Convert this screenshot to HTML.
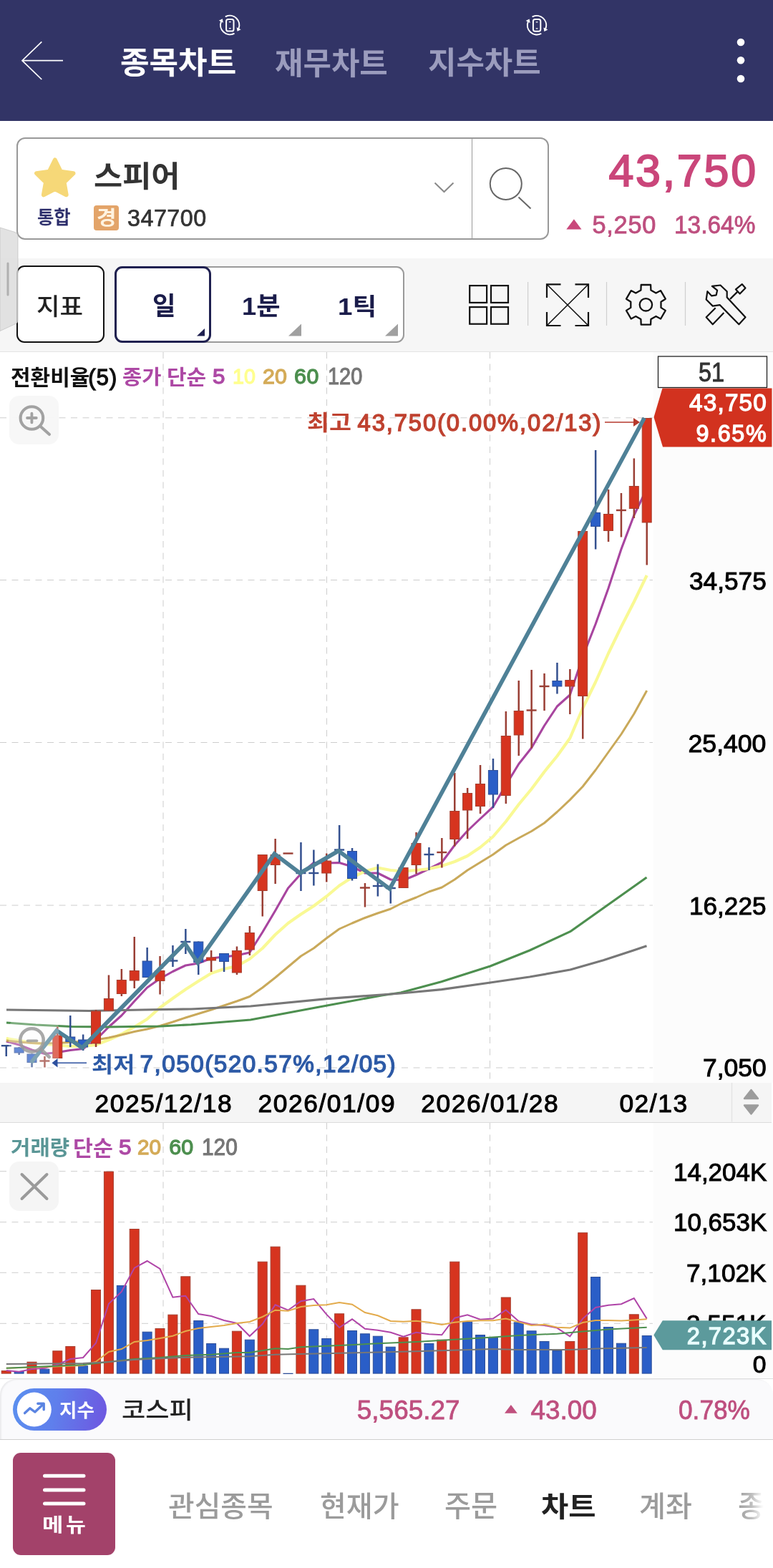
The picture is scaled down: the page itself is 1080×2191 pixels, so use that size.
<!DOCTYPE html>
<html lang="ko"><head><meta charset="utf-8"><title>종목차트</title>
<style>
html,body{margin:0;padding:0}
body{width:1080px;height:2191px;position:relative;overflow:hidden;background:#fff;font-family:"Liberation Sans","Noto Sans CJK KR",sans-serif}
.abs{position:absolute}
.t{position:absolute;line-height:1;white-space:pre;transform-origin:0 0}
</style></head><body>
<div class="abs" style="left:0;top:0;width:1080px;height:168.5px;background:#323466"></div>
<div class="abs" style="left:0;top:360.5px;width:1080px;height:130.5px;background:#f6f6f6;border-bottom:1px solid #e4e4e4"></div>
<div class="abs" style="left:912.5px;top:492px;width:167.5px;height:1021px;background:#fcfcfc"></div>
<div class="abs" style="left:0;top:1512.5px;width:1078px;height:55px;background:#f5f5f5;border-bottom:1.5px solid #dcdcdc"></div>
<div class="abs" style="left:912.5px;top:1569px;width:167.5px;height:357px;background:#fcfcfc"></div>
<div class="abs" style="left:0;top:1925.5px;width:1080px;height:1.3px;background:#dedede"></div>
<div class="abs" style="left:0;top:1927px;width:1080px;height:84px;background:#fafafc;border-radius:22px 22px 0 0;border-bottom:1.5px solid #cfcfcf;box-shadow:inset 2px 1px 2px rgba(0,0,0,0.06)"></div>
<svg class="abs" style="left:0;top:0" width="1080" height="168" viewBox="0 0 1080 168"><path d="M58.3 58.3L31 84.7L58.3 111M31 84.7H88" fill="none" stroke="#fff" stroke-width="1.7"/><circle cx="1035" cy="59" r="5.3" fill="#fff"/><circle cx="1035" cy="84.3" r="5.3" fill="#fff"/><circle cx="1035" cy="110" r="5.3" fill="#fff"/><g fill="none" stroke="#fff" stroke-width="2" stroke-linecap="round" stroke-linejoin="round"><path d="M315.6 23.0A13.2 13.2 0 0 1 333.4 39.9"/><path d="M326.8 47.0A13.2 13.2 0 0 1 309.0 30.1"/><rect x="316.1" y="26.9" width="10.4" height="16.6" rx="2.6"/><path d="M320.4 30.6h1.8M320.4 39.6h1.8" stroke-width="1.3"/></g><path d="M331.6 43.8L330.6 38.3L336.6 41.2Z" fill="#fff"/><path d="M310.8 26.2L311.8 31.7L305.8 28.8Z" fill="#fff"/><g fill="none" stroke="#fff" stroke-width="2" stroke-linecap="round" stroke-linejoin="round"><path d="M744.4 23.2A13.2 13.2 0 0 1 762.2 40.1"/><path d="M755.6 47.2A13.2 13.2 0 0 1 737.8 30.3"/><rect x="744.9" y="27.1" width="10.4" height="16.6" rx="2.6"/><path d="M749.2 30.8h1.8M749.2 39.8h1.8" stroke-width="1.3"/></g><path d="M760.4 44.0L759.4 38.5L765.4 41.4Z" fill="#fff"/><path d="M739.6 26.4L740.6 31.9L734.6 29.0Z" fill="#fff"/></svg>
<span class="t" style="left:167.9px;top:67.0px;font-size:42.7px;transform:scaleX(1.0327);font-weight:700;color:#fff;">종목차트</span>
<span class="t" style="left:384.3px;top:67.8px;font-size:42.7px;transform:scaleX(1.0045);font-weight:700;color:#9b9cbd;">재무차트</span>
<span class="t" style="left:598.4px;top:67.3px;font-size:42.7px;transform:scaleX(1.0039);font-weight:700;color:#9b9cbd;">지수차트</span>
<div class="abs" style="left:23px;top:192px;width:740px;height:139px;border:2px solid #999;border-radius:12px;background:#fff"></div>
<div class="abs" style="left:658.5px;top:194px;width:1.5px;height:139px;background:#999"></div>
<svg class="abs" style="left:0;top:168px" width="1080" height="192" viewBox="0 168 1080 192"><path d="M76.8 223.5L84.7 239.6L102.5 242.2L89.6 254.7L92.7 272.3L76.8 264.0L60.9 272.3L64.0 254.7L51.1 242.2L68.9 239.6Z" fill="#f6d878" stroke="#f6d878" stroke-width="6" stroke-linejoin="round"/><path d="M607.5 255.5L620.5 268L633.5 255.5" fill="none" stroke="#8a8a8a" stroke-width="2"/><circle cx="706.8" cy="257" r="22" fill="none" stroke="#666" stroke-width="2"/><path d="M724.5 275.5L741.5 291.5" stroke="#666" stroke-width="2"/><path d="M791.3 320.4L801.9 306.2L812.5 320.4Z" fill="#c9487b"/></svg>
<span class="t" style="left:130.5px;top:227.2px;font-size:40.5px;transform:scaleX(1.0783);font-weight:700;color:#333;">스피어</span>
<span class="t" style="left:52.2px;top:292.0px;font-size:25.6px;transform:scaleX(0.9911);font-weight:500;-webkit-text-stroke:0.35px #2b2d6b;color:#2b2d6b;">통합</span>
<div class="abs" style="left:130.7px;top:286.7px;width:35.3px;height:35.3px;background:#e3a469;border-radius:4px"></div>
<span class="t" style="left:134.8px;top:291.2px;font-size:27.5px;transform:scaleX(1.0857);font-weight:700;color:#fff3e0;">경</span>
<span class="t" style="left:178.1px;top:288.6px;font-size:32.3px;letter-spacing:0.46px;-webkit-text-stroke:0.7px #333;color:#333;">347700</span>
<span class="t" style="left:850.4px;top:206.8px;font-size:62.8px;letter-spacing:2.72px;-webkit-text-stroke:1.9px #ca467a;color:#ca467a;">43,750</span>
<span class="t" style="left:827.5px;top:296.8px;font-size:34.4px;letter-spacing:0.7px;-webkit-text-stroke:0.8px #be4f7f;color:#be4f7f;">5,250</span>
<span class="t" style="left:941.8px;top:296.8px;font-size:34.4px;transform:scaleX(0.9719);-webkit-text-stroke:0.8px #be4f7f;color:#be4f7f;">13.64%</span>
<div class="abs" style="left:23.3px;top:371.3px;width:118.5px;height:103.6px;border:2px solid #111;border-radius:11px;background:#fff"></div>
<span class="t" style="left:51.2px;top:411.6px;font-size:33.3px;transform:scaleX(1.0638);font-weight:500;color:#222;">지표</span>
<div class="abs" style="left:160.4px;top:371.5px;width:400.2px;height:103.4px;border:2px solid #9a9a9a;border-radius:11px;background:#fff"></div>
<div class="abs" style="left:160.4px;top:371.5px;width:128.2px;height:101.4px;border:3px solid #1f2050;border-radius:11px;background:#fff"></div>
<span class="t" style="left:212.6px;top:411.4px;font-size:35.5px;transform:scaleX(0.9964);font-weight:700;color:#1a1c4a;">일</span>
<span class="t" style="left:337.5px;top:411.2px;font-size:34.8px;transform:scaleX(1.0417);font-weight:700;color:#1a1c4a;">1분</span>
<span class="t" style="left:471.8px;top:412.6px;font-size:32.9px;transform:scaleX(1.1163);font-weight:700;color:#1a1c4a;">1틱</span>
<svg class="abs" style="left:0;top:360px" width="1080" height="131" viewBox="0 360 1080 131"><path d="M286 459V469.6H275Z" fill="#1f2050"/><path d="M421 452.5V469.6H403Z" fill="#a0a0a0"/><path d="M556 452.5V469.6H538Z" fill="#a0a0a0"/><g fill="none" stroke="#111" stroke-width="2.2"><rect x="656.2" y="399.1" width="23.9" height="23.8"/><rect x="686" y="399.1" width="24" height="23.8"/><rect x="656.2" y="429.1" width="23.9" height="23.6"/><rect x="686" y="429.1" width="24" height="23.6"/></g><path d="M737.6 394V455M847.5 394V455M957.5 394V455" stroke="#cfcfcf" stroke-width="1.2"/><g fill="none" stroke="#111"><path d="M764 416V397.3H783.5M803.5 397.3H822V416M822 436V455H803.5M783.5 455H764V436" stroke-width="2.2"/><path d="M764.5 397.8L821.5 454.5M821.5 397.8L764.5 454.5" stroke-width="1.6"/></g><path d="M895.4 405.5L895.7 398.0L909.1 398.0L909.4 405.5L916.5 409.6L923.1 406.1L929.8 417.7L923.5 421.7L923.5 429.9L929.8 433.9L923.1 445.5L916.5 442.0L909.4 446.1L909.1 453.6L895.7 453.6L895.4 446.1L888.3 442.0L881.7 445.5L875.0 433.9L881.3 429.9L881.3 421.7L875.0 417.7L881.7 406.1L888.3 409.6Z" fill="none" stroke="#111" stroke-width="2.3" stroke-linejoin="round"/><circle cx="902.4" cy="425.8" r="8.7" fill="none" stroke="#111" stroke-width="2.3"/><g fill="none" stroke="#111" stroke-width="2.2" stroke-linejoin="round"><path d="M999.7 430.2L986.7 443.2L995.8 453.3L1011.4 437.0"/><path d="M994.9 399.8L1006.5 398.5L1015.7 407.2L1015.7 415.6L1041.5 443.2L1032.4 453.3L1005.6 426.1L995.8 427.6L986.7 418.5L988.4 407.2L994.3 413.4L1000.7 412.3L1002.1 405.7Z" fill="#f5f5f5"/><path d="M1027.9 404.3L1036.7 397.1L1041.5 402.4L1033.7 410.5Z"/><path d="M1020.1 417.9L1030.4 407.6"/></g></svg>
<svg class="abs" style="left:0;top:310px" width="30" height="160" viewBox="0 310 30 160"><path d="M0 318L19.5 324Q25 325.5 25 331V447Q25 452 19.5 453.5L0 462.5Z" fill="#dcdcdc" fill-opacity="0.82" stroke="#c4c4c4" stroke-opacity="0.8" stroke-width="1"/><path d="M11 368V412" stroke="#b0b0b0" stroke-width="3" stroke-linecap="round"/></svg>
<svg class="abs" style="left:0;top:0" width="1080" height="2191" viewBox="0 0 1080 2191">
<path d="M0 583.8H912M0 810.5H912M0 1037.5H912M0 1265H912M0 1492H912M0 1636.7H912M0 1707.7H912M0 1778.3H912M0 1849.3H912M228 492V1512M228 1569V1920M456.5 492V1512M456.5 1569V1920M684.5 492V1512M684.5 1569V1920" stroke="#cdcdcd" stroke-width="1" stroke-dasharray="9 7.5" fill="none"/>
<polyline points="8.8,1455.0 26.6,1460.0 44.5,1467.0 62.4,1472.5 80.3,1470.5 98.2,1467.5 116.1,1465.5 134.0,1453.0 151.9,1435.0 169.8,1419.0 187.8,1399.0 205.6,1380.0 223.5,1367.5 241.4,1357.5 259.3,1349.0 277.2,1346.0 295.1,1339.0 313.0,1337.0 330.9,1335.0 348.8,1331.0 366.8,1302.5 384.6,1272.5 402.5,1241.0 420.4,1221.0 438.3,1205.5 456.2,1206.0 474.1,1205.5 492.0,1211.0 509.9,1220.0 527.8,1220.0 545.8,1229.0 563.6,1230.0 581.5,1222.5 599.4,1214.0 617.3,1205.0 635.2,1181.0 653.1,1161.0 671.0,1144.0 688.9,1127.5 706.8,1097.0 724.8,1067.5 742.6,1045.0 760.5,1014.0 778.4,987.0 796.3,971.0 814.2,917.5 832.1,872.0 850.0,822.0 867.9,767.5 885.8,720.0 903.7,683.0" fill="none" stroke="#a8459f" stroke-width="3.1" stroke-linejoin="round"/>
<polyline points="8.8,1451.0 26.6,1454.0 44.5,1457.0 62.4,1459.0 80.3,1460.5 98.2,1462.0 116.1,1462.0 134.0,1460.0 151.9,1453.0 169.8,1445.0 187.8,1435.0 205.6,1424.0 223.5,1408.0 241.4,1395.0 259.3,1382.5 277.2,1371.0 295.1,1360.0 313.0,1354.0 330.9,1350.0 348.8,1340.0 366.8,1325.0 384.6,1306.0 402.5,1290.0 420.4,1277.5 438.3,1266.0 456.2,1252.5 474.1,1237.5 492.0,1226.0 509.9,1217.5 527.8,1212.5 545.8,1216.0 563.6,1217.5 581.5,1216.0 599.4,1214.0 617.3,1210.0 635.2,1204.0 653.1,1196.0 671.0,1184.0 688.9,1169.0 706.8,1148.0 724.8,1124.0 742.6,1102.5 760.5,1078.5 778.4,1056.5 796.3,1031.5 814.2,989.5 832.1,953.0 850.0,913.0 867.9,876.0 885.8,841.0 903.7,804.0" fill="none" stroke="#f9f994" stroke-width="4.2" stroke-linejoin="round"/>
<polyline points="8.8,1454.0 26.6,1456.0 44.5,1457.5 62.4,1458.0 80.3,1457.5 98.2,1456.5 116.1,1455.0 134.0,1453.0 151.9,1450.0 169.8,1446.0 187.8,1441.5 205.6,1438.0 223.5,1433.5 241.4,1428.0 259.3,1422.0 277.2,1416.5 295.1,1411.0 313.0,1405.0 330.9,1399.0 348.8,1392.5 366.8,1380.0 384.6,1366.0 402.5,1351.0 420.4,1336.0 438.3,1325.0 456.2,1311.0 474.1,1298.0 492.0,1290.0 509.9,1282.5 527.8,1276.0 545.8,1270.0 563.6,1261.0 581.5,1254.0 599.4,1246.0 617.3,1240.0 635.2,1229.0 653.1,1216.0 671.0,1205.0 688.9,1194.0 706.8,1181.0 724.8,1171.0 742.6,1161.5 760.5,1150.0 778.4,1134.5 796.3,1117.6 814.2,1099.0 832.1,1076.0 850.0,1051.0 867.9,1026.0 885.8,997.5 903.7,965.0" fill="none" stroke="#c9a95a" stroke-width="3" stroke-linejoin="round"/>
<polyline points="9.0,1429.0 50.0,1432.0 100.0,1434.5 150.0,1435.0 200.0,1434.3 225.0,1434.0 267.0,1431.7 350.0,1425.0 457.0,1405.0 533.0,1391.0 560.0,1387.0 616.7,1371.7 685.0,1350.0 740.0,1328.0 796.7,1301.7 903.5,1226.0" fill="none" stroke="#4d8f4f" stroke-width="3.1" stroke-linejoin="round"/>
<polyline points="9.0,1411.0 125.0,1412.5 200.0,1411.0 267.0,1410.0 350.0,1406.0 457.0,1395.7 533.0,1390.0 560.0,1388.0 617.0,1382.7 685.0,1373.0 740.0,1365.0 796.7,1355.0 843.0,1341.7 885.0,1328.0 903.5,1321.7" fill="none" stroke="#777" stroke-width="3.2" stroke-linejoin="round"/>
<rect x="7.50" y="1461.2" width="2.5" height="14.8" fill="#34508f"/>
<rect x="1.8" y="1460.0" width="14" height="2.4" fill="#34508f"/>
<rect x="25.40" y="1463" width="2.5" height="11.0" fill="#34508f"/>
<rect x="20.1" y="1464.0" width="13" height="7.0" fill="#2a5ec7" stroke="#2e4f98" stroke-width="1"/>
<rect x="43.30" y="1472.5" width="2.5" height="18.8" fill="#34508f"/>
<rect x="38.0" y="1473.0" width="13" height="11.5" fill="#2a5ec7" stroke="#2e4f98" stroke-width="1"/>
<rect x="61.20" y="1476" width="2.5" height="15.5" fill="#9a3f35"/>
<rect x="55.4" y="1481.3" width="14" height="2.4" fill="#9a3f35"/>
<rect x="79.10" y="1434.5" width="2.5" height="44.5" fill="#9a3f35"/>
<rect x="73.8" y="1447.0" width="13" height="31.5" fill="#d6341f" stroke="#a53f2f" stroke-width="1"/>
<rect x="97.00" y="1419" width="2.5" height="44.0" fill="#34508f"/>
<rect x="91.8" y="1449.0" width="13" height="6.5" fill="#2a5ec7" stroke="#2e4f98" stroke-width="1"/>
<rect x="114.90" y="1445.5" width="2.5" height="22.5" fill="#34508f"/>
<rect x="109.6" y="1453.0" width="13" height="10.0" fill="#2a5ec7" stroke="#2e4f98" stroke-width="1"/>
<rect x="132.80" y="1411" width="2.5" height="52.0" fill="#9a3f35"/>
<rect x="127.5" y="1413.0" width="13" height="45.0" fill="#d6341f" stroke="#a53f2f" stroke-width="1"/>
<rect x="150.70" y="1362.5" width="2.5" height="50.0" fill="#9a3f35"/>
<rect x="145.4" y="1395.5" width="13" height="16.5" fill="#d6341f" stroke="#a53f2f" stroke-width="1"/>
<rect x="168.60" y="1354" width="2.5" height="38.0" fill="#9a3f35"/>
<rect x="163.3" y="1369.5" width="13" height="19.0" fill="#d6341f" stroke="#a53f2f" stroke-width="1"/>
<rect x="186.50" y="1309" width="2.5" height="72.0" fill="#9a3f35"/>
<rect x="181.2" y="1356.5" width="13" height="13.5" fill="#d6341f" stroke="#a53f2f" stroke-width="1"/>
<rect x="204.40" y="1324" width="2.5" height="42.0" fill="#34508f"/>
<rect x="199.1" y="1343.0" width="13" height="22.5" fill="#2a5ec7" stroke="#2e4f98" stroke-width="1"/>
<rect x="222.30" y="1336" width="2.5" height="53.5" fill="#9a3f35"/>
<rect x="217.0" y="1356.5" width="13" height="14.0" fill="#d6341f" stroke="#a53f2f" stroke-width="1"/>
<rect x="240.20" y="1321" width="2.5" height="30.0" fill="#34508f"/>
<rect x="234.4" y="1341.3" width="14" height="2.4" fill="#34508f"/>
<rect x="258.10" y="1298" width="2.5" height="35.0" fill="#34508f"/>
<rect x="252.3" y="1314.8" width="14" height="2.4" fill="#34508f"/>
<rect x="276.00" y="1315.5" width="2.5" height="46.5" fill="#34508f"/>
<rect x="270.8" y="1316.0" width="13" height="28.5" fill="#2a5ec7" stroke="#2e4f98" stroke-width="1"/>
<rect x="293.90" y="1328" width="2.5" height="30.0" fill="#9a3f35"/>
<rect x="288.6" y="1338.0" width="13" height="4.0" fill="#d6341f" stroke="#a53f2f" stroke-width="1"/>
<rect x="311.80" y="1332" width="2.5" height="26.0" fill="#34508f"/>
<rect x="306.5" y="1332.5" width="13" height="11.0" fill="#2a5ec7" stroke="#2e4f98" stroke-width="1"/>
<rect x="329.70" y="1322.5" width="2.5" height="39.5" fill="#9a3f35"/>
<rect x="324.4" y="1328.5" width="13" height="30.5" fill="#d6341f" stroke="#a53f2f" stroke-width="1"/>
<rect x="347.60" y="1294" width="2.5" height="41.0" fill="#9a3f35"/>
<rect x="342.3" y="1303.5" width="13" height="23.5" fill="#d6341f" stroke="#a53f2f" stroke-width="1"/>
<rect x="365.50" y="1194" width="2.5" height="86.5" fill="#9a3f35"/>
<rect x="360.2" y="1194.5" width="13" height="50.0" fill="#d6341f" stroke="#a53f2f" stroke-width="1"/>
<rect x="383.40" y="1172" width="2.5" height="63.0" fill="#9a3f35"/>
<rect x="378.1" y="1194.5" width="13" height="14.0" fill="#d6341f" stroke="#a53f2f" stroke-width="1"/>
<rect x="395.5" y="1191.3" width="14" height="2.4" fill="#9a3f35"/>
<rect x="419.20" y="1177" width="2.5" height="68.0" fill="#34508f"/>
<rect x="413.4" y="1218.8" width="14" height="2.4" fill="#34508f"/>
<rect x="437.10" y="1187.5" width="2.5" height="50.0" fill="#34508f"/>
<rect x="431.3" y="1218.8" width="14" height="2.4" fill="#34508f"/>
<rect x="455.00" y="1192.5" width="2.5" height="40.0" fill="#9a3f35"/>
<rect x="449.7" y="1203.0" width="13" height="17.0" fill="#d6341f" stroke="#a53f2f" stroke-width="1"/>
<rect x="472.90" y="1153" width="2.5" height="52.0" fill="#34508f"/>
<rect x="467.1" y="1186.3" width="14" height="2.4" fill="#34508f"/>
<rect x="490.80" y="1185" width="2.5" height="45.5" fill="#34508f"/>
<rect x="485.5" y="1189.5" width="13" height="38.0" fill="#2a5ec7" stroke="#2e4f98" stroke-width="1"/>
<rect x="508.70" y="1234" width="2.5" height="33.5" fill="#9a3f35"/>
<rect x="502.9" y="1239.3" width="14" height="2.4" fill="#9a3f35"/>
<rect x="526.60" y="1207.5" width="2.5" height="45.0" fill="#34508f"/>
<rect x="520.8" y="1236.8" width="14" height="2.4" fill="#34508f"/>
<rect x="544.50" y="1236" width="2.5" height="26.5" fill="#34508f"/>
<rect x="538.8" y="1239.8" width="14" height="2.4" fill="#34508f"/>
<rect x="562.40" y="1212" width="2.5" height="29.0" fill="#9a3f35"/>
<rect x="557.1" y="1212.5" width="13" height="28.0" fill="#d6341f" stroke="#a53f2f" stroke-width="1"/>
<rect x="580.30" y="1163" width="2.5" height="58.0" fill="#9a3f35"/>
<rect x="575.0" y="1178.5" width="13" height="30.0" fill="#d6341f" stroke="#a53f2f" stroke-width="1"/>
<rect x="598.20" y="1184" width="2.5" height="32.0" fill="#34508f"/>
<rect x="592.4" y="1192.8" width="14" height="2.4" fill="#34508f"/>
<rect x="616.10" y="1171" width="2.5" height="41.5" fill="#9a3f35"/>
<rect x="610.3" y="1189.8" width="14" height="2.4" fill="#9a3f35"/>
<rect x="634.00" y="1080" width="2.5" height="102.5" fill="#9a3f35"/>
<rect x="628.8" y="1133.5" width="13" height="39.0" fill="#d6341f" stroke="#a53f2f" stroke-width="1"/>
<rect x="651.90" y="1101" width="2.5" height="71.0" fill="#9a3f35"/>
<rect x="646.6" y="1108.5" width="13" height="23.5" fill="#d6341f" stroke="#a53f2f" stroke-width="1"/>
<rect x="669.80" y="1069" width="2.5" height="68.0" fill="#9a3f35"/>
<rect x="664.5" y="1095.5" width="13" height="31.0" fill="#d6341f" stroke="#a53f2f" stroke-width="1"/>
<rect x="687.70" y="1060" width="2.5" height="69.0" fill="#34508f"/>
<rect x="682.4" y="1076.5" width="13" height="33.5" fill="#2a5ec7" stroke="#2e4f98" stroke-width="1"/>
<rect x="705.60" y="994" width="2.5" height="129.0" fill="#9a3f35"/>
<rect x="700.3" y="1028.5" width="13" height="83.0" fill="#d6341f" stroke="#a53f2f" stroke-width="1"/>
<rect x="723.50" y="951" width="2.5" height="105.0" fill="#9a3f35"/>
<rect x="718.2" y="993.5" width="13" height="33.5" fill="#d6341f" stroke="#a53f2f" stroke-width="1"/>
<rect x="741.40" y="936" width="2.5" height="109.5" fill="#9a3f35"/>
<rect x="735.6" y="991.3" width="14" height="2.4" fill="#9a3f35"/>
<rect x="759.30" y="941" width="2.5" height="52.0" fill="#9a3f35"/>
<rect x="753.5" y="957.8" width="14" height="2.4" fill="#9a3f35"/>
<rect x="777.20" y="926" width="2.5" height="43.5" fill="#34508f"/>
<rect x="771.9" y="951.5" width="13" height="7.5" fill="#2a5ec7" stroke="#2e4f98" stroke-width="1"/>
<rect x="795.10" y="935" width="2.5" height="63.0" fill="#9a3f35"/>
<rect x="789.8" y="950.5" width="13" height="8.5" fill="#d6341f" stroke="#a53f2f" stroke-width="1"/>
<rect x="813.00" y="742" width="2.5" height="290.5" fill="#9a3f35"/>
<rect x="807.7" y="742.5" width="13" height="230.0" fill="#d6341f" stroke="#a53f2f" stroke-width="1"/>
<rect x="830.90" y="629" width="2.5" height="138.5" fill="#34508f"/>
<rect x="825.6" y="716.5" width="13" height="19.0" fill="#2a5ec7" stroke="#2e4f98" stroke-width="1"/>
<rect x="848.80" y="684" width="2.5" height="73.0" fill="#9a3f35"/>
<rect x="843.5" y="718.5" width="13" height="23.0" fill="#d6341f" stroke="#a53f2f" stroke-width="1"/>
<rect x="866.70" y="689" width="2.5" height="61.5" fill="#9a3f35"/>
<rect x="860.9" y="711.8" width="14" height="2.4" fill="#9a3f35"/>
<rect x="884.60" y="640.5" width="2.5" height="83.5" fill="#9a3f35"/>
<rect x="879.3" y="679.5" width="13" height="31.0" fill="#d6341f" stroke="#a53f2f" stroke-width="1"/>
<rect x="902.50" y="584" width="2.5" height="205.5" fill="#9a3f35"/>
<rect x="897.2" y="584.5" width="13" height="145.5" fill="#d6341f" stroke="#a53f2f" stroke-width="1"/>
<polyline points="43.3,1485.0 79.1,1440.0 114.9,1464.0 258.1,1318.0 276.1,1345.0 383.4,1193.0 419.2,1220.0 472.9,1189.0 544.5,1242.0 900.3,584.0" fill="none" stroke="#4f8197" stroke-width="5.7" stroke-linejoin="miter"/>
<rect x="12.2" y="1423.3" width="70" height="71.2" rx="14" fill="#fafafa" fill-opacity="0.28"/>
<g fill="none" stroke="#9a9a9a" stroke-opacity="0.85" stroke-width="4.6" stroke-linecap="round"><circle cx="44.5" cy="1453.4" r="16.2"/><path d="M57.8 1466.3L68.8 1477"/><path d="M38.6 1454.3h12.8" stroke-width="3.8"/></g>
<rect x="2.2" y="1915.5" width="13" height="3.6" fill="#d6341f" stroke="#a53f2f" stroke-width="1"/>
<rect x="20.1" y="1916.5" width="13" height="2.6" fill="#2a5ec7" stroke="#2e4f98" stroke-width="1"/>
<rect x="38.0" y="1903.2" width="13" height="15.9" fill="#d6341f" stroke="#a53f2f" stroke-width="1"/>
<rect x="55.9" y="1913.2" width="13" height="5.9" fill="#2a5ec7" stroke="#2e4f98" stroke-width="1"/>
<rect x="73.8" y="1887.8" width="13" height="31.3" fill="#d6341f" stroke="#a53f2f" stroke-width="1"/>
<rect x="91.8" y="1881.5" width="13" height="37.6" fill="#d6341f" stroke="#a53f2f" stroke-width="1"/>
<rect x="109.6" y="1908.8" width="13" height="10.3" fill="#2a5ec7" stroke="#2e4f98" stroke-width="1"/>
<rect x="127.5" y="1802.5" width="13" height="116.6" fill="#d6341f" stroke="#a53f2f" stroke-width="1"/>
<rect x="145.4" y="1637.2" width="13" height="281.9" fill="#d6341f" stroke="#a53f2f" stroke-width="1"/>
<rect x="163.3" y="1796.5" width="13" height="122.6" fill="#2a5ec7" stroke="#2e4f98" stroke-width="1"/>
<rect x="181.2" y="1717.5" width="13" height="201.6" fill="#d6341f" stroke="#a53f2f" stroke-width="1"/>
<rect x="199.1" y="1861.2" width="13" height="57.9" fill="#2a5ec7" stroke="#2e4f98" stroke-width="1"/>
<rect x="217.0" y="1856.5" width="13" height="62.6" fill="#d6341f" stroke="#a53f2f" stroke-width="1"/>
<rect x="234.9" y="1837.2" width="13" height="81.9" fill="#d6341f" stroke="#a53f2f" stroke-width="1"/>
<rect x="252.8" y="1783.8" width="13" height="135.3" fill="#d6341f" stroke="#a53f2f" stroke-width="1"/>
<rect x="270.8" y="1845.5" width="13" height="73.6" fill="#2a5ec7" stroke="#2e4f98" stroke-width="1"/>
<rect x="288.6" y="1877.5" width="13" height="41.6" fill="#2a5ec7" stroke="#2e4f98" stroke-width="1"/>
<rect x="306.5" y="1884.2" width="13" height="34.9" fill="#2a5ec7" stroke="#2e4f98" stroke-width="1"/>
<rect x="324.4" y="1860.2" width="13" height="58.9" fill="#d6341f" stroke="#a53f2f" stroke-width="1"/>
<rect x="342.3" y="1872.2" width="13" height="46.9" fill="#2a5ec7" stroke="#2e4f98" stroke-width="1"/>
<rect x="360.2" y="1763.2" width="13" height="155.9" fill="#d6341f" stroke="#a53f2f" stroke-width="1"/>
<rect x="378.1" y="1742.2" width="13" height="176.9" fill="#d6341f" stroke="#a53f2f" stroke-width="1"/>
<rect x="396.0" y="1919.2" width="13" height="0.3" fill="#2a5ec7" stroke="#2e4f98" stroke-width="1"/>
<rect x="413.9" y="1796.2" width="13" height="122.9" fill="#d6341f" stroke="#a53f2f" stroke-width="1"/>
<rect x="431.8" y="1857.8" width="13" height="61.3" fill="#2a5ec7" stroke="#2e4f98" stroke-width="1"/>
<rect x="449.7" y="1870.5" width="13" height="48.6" fill="#2a5ec7" stroke="#2e4f98" stroke-width="1"/>
<rect x="467.6" y="1835.8" width="13" height="83.3" fill="#d6341f" stroke="#a53f2f" stroke-width="1"/>
<rect x="485.5" y="1859.5" width="13" height="59.6" fill="#2a5ec7" stroke="#2e4f98" stroke-width="1"/>
<rect x="503.4" y="1863.8" width="13" height="55.3" fill="#2a5ec7" stroke="#2e4f98" stroke-width="1"/>
<rect x="521.3" y="1867.2" width="13" height="51.9" fill="#2a5ec7" stroke="#2e4f98" stroke-width="1"/>
<rect x="539.2" y="1882.2" width="13" height="36.9" fill="#2a5ec7" stroke="#2e4f98" stroke-width="1"/>
<rect x="557.1" y="1868.8" width="13" height="50.3" fill="#d6341f" stroke="#a53f2f" stroke-width="1"/>
<rect x="575.0" y="1829.8" width="13" height="89.3" fill="#d6341f" stroke="#a53f2f" stroke-width="1"/>
<rect x="592.9" y="1877.5" width="13" height="41.6" fill="#2a5ec7" stroke="#2e4f98" stroke-width="1"/>
<rect x="610.8" y="1872.2" width="13" height="46.9" fill="#d6341f" stroke="#a53f2f" stroke-width="1"/>
<rect x="628.8" y="1763.2" width="13" height="155.9" fill="#d6341f" stroke="#a53f2f" stroke-width="1"/>
<rect x="646.6" y="1847.2" width="13" height="71.9" fill="#2a5ec7" stroke="#2e4f98" stroke-width="1"/>
<rect x="664.5" y="1865.5" width="13" height="53.6" fill="#2a5ec7" stroke="#2e4f98" stroke-width="1"/>
<rect x="682.4" y="1869.3" width="13" height="49.8" fill="#2a5ec7" stroke="#2e4f98" stroke-width="1"/>
<rect x="700.3" y="1813.0" width="13" height="106.1" fill="#d6341f" stroke="#a53f2f" stroke-width="1"/>
<rect x="718.2" y="1847.9" width="13" height="71.2" fill="#2a5ec7" stroke="#2e4f98" stroke-width="1"/>
<rect x="736.1" y="1859.8" width="13" height="59.3" fill="#2a5ec7" stroke="#2e4f98" stroke-width="1"/>
<rect x="754.0" y="1874.5" width="13" height="44.6" fill="#2a5ec7" stroke="#2e4f98" stroke-width="1"/>
<rect x="771.9" y="1887.5" width="13" height="31.6" fill="#2a5ec7" stroke="#2e4f98" stroke-width="1"/>
<rect x="789.8" y="1874.5" width="13" height="44.6" fill="#d6341f" stroke="#a53f2f" stroke-width="1"/>
<rect x="807.7" y="1722.7" width="13" height="196.4" fill="#d6341f" stroke="#a53f2f" stroke-width="1"/>
<rect x="825.6" y="1784.5" width="13" height="134.6" fill="#2a5ec7" stroke="#2e4f98" stroke-width="1"/>
<rect x="843.5" y="1854.5" width="13" height="64.6" fill="#2a5ec7" stroke="#2e4f98" stroke-width="1"/>
<rect x="861.4" y="1877.2" width="13" height="41.9" fill="#2a5ec7" stroke="#2e4f98" stroke-width="1"/>
<rect x="879.3" y="1836.8" width="13" height="82.3" fill="#d6341f" stroke="#a53f2f" stroke-width="1"/>
<rect x="897.2" y="1866.5" width="13" height="52.6" fill="#2a5ec7" stroke="#2e4f98" stroke-width="1"/>
<polyline points="8.8,1915.0 26.6,1916.7 44.5,1913.0 62.4,1911.7 80.3,1906.7 98.2,1899.0 116.1,1897.0 134.0,1876.7 151.9,1821.7 169.8,1805.0 187.8,1771.7 205.6,1762.0 223.5,1773.0 241.4,1812.7 259.3,1810.7 277.2,1836.0 295.1,1839.0 313.0,1845.0 330.9,1849.0 348.8,1867.0 366.8,1850.0 384.6,1823.3 402.5,1830.7 420.4,1818.3 438.3,1815.0 456.2,1836.7 474.1,1855.0 492.0,1843.3 509.9,1856.7 527.8,1858.7 545.8,1861.7 563.6,1867.7 581.5,1861.7 599.4,1864.3 617.3,1865.3 635.2,1841.7 653.1,1837.3 671.0,1843.7 688.9,1842.5 706.8,1830.4 724.8,1846.3 742.6,1850.7 760.5,1851.9 778.4,1855.6 796.3,1867.4 814.2,1842.6 832.1,1827.0 850.0,1823.7 867.9,1822.2 885.8,1814.0 903.7,1842.6" fill="none" stroke="#b045a8" stroke-width="2"/>
<polyline points="8.8,1911.7 62.4,1910.0 116.1,1908.0 134.0,1902.7 151.9,1889.0 169.8,1885.0 187.8,1875.0 205.6,1873.0 223.5,1870.0 241.4,1866.7 259.3,1860.0 277.2,1856.0 295.1,1854.0 313.0,1852.0 330.9,1849.0 348.8,1847.0 366.8,1840.0 384.6,1830.7 402.5,1831.7 420.4,1826.0 438.3,1824.0 456.2,1823.3 474.1,1820.0 492.0,1822.7 509.9,1834.0 527.8,1838.3 545.8,1846.0 563.6,1846.7 581.5,1845.7 599.4,1847.7 617.3,1851.0 635.2,1847.7 653.1,1846.0 671.0,1845.3 688.9,1845.3 706.8,1842.6 724.8,1847.4 742.6,1851.9 760.5,1850.7 778.4,1854.8 796.3,1855.6 814.2,1848.0 832.1,1845.0 850.0,1845.0 867.9,1845.6 885.8,1844.4 903.7,1843.3" fill="none" stroke="#e3ab4c" stroke-width="2"/>
<polyline points="8.8,1911.7 116.1,1907.0 151.9,1903.0 187.8,1899.0 223.5,1897.0 259.3,1894.0 295.1,1892.7 330.9,1890.0 348.8,1890.0 384.6,1884.3 402.5,1885.0 420.4,1882.3 474.1,1880.0 527.8,1877.3 581.5,1875.0 635.2,1871.7 688.9,1868.5 724.8,1866.0 778.4,1863.7 814.2,1860.4 850.0,1857.4 903.7,1854.8" fill="none" stroke="#4d8f4f" stroke-width="2"/>
<polyline points="8.8,1906.0 116.1,1905.0 151.9,1903.0 187.8,1900.0 259.3,1896.7 348.8,1895.3 384.6,1892.7 474.1,1890.7 581.5,1888.3 688.9,1885.0 724.8,1886.0 796.3,1886.0 832.1,1884.4 903.7,1883.0" fill="none" stroke="#777" stroke-width="2"/>
<path d="M845 590H886" stroke="#b5392c" stroke-width="1.6"/><path d="M894 590L885 584V596Z" fill="#b5392c"/>
<path d="M121 1485.3H80" stroke="#2c509f" stroke-width="1.6"/><path d="M72.5 1485.3L80.5 1479V1491.6Z" fill="#2c509f"/>
<rect x="13" y="553" width="69" height="68" rx="14" fill="#f7f7f7" fill-opacity="0.95"/>
<g fill="none" stroke="#a2a2a2" stroke-width="4.1" stroke-linecap="round"><circle cx="44.4" cy="584" r="15.8"/><path d="M57 596.2L69 607"/><path d="M38 584h12.8M44.4 577.6v12.8" stroke-width="3.8"/></g>
<rect x="13" y="1623" width="69" height="69" rx="14" fill="#f5f5f5"/>
<path d="M30.5 1641L65.5 1675M65.5 1641L30.5 1675" fill="none" stroke="#9a9a9a" stroke-width="4" stroke-linecap="round"/>
<path d="M913.5 583L925.5 542.5H1078.5V624.5H926Z" fill="#d2321f"/>
<rect x="919.5" y="498" width="152" height="43.5" fill="#fff" stroke="#222" stroke-width="1.3"/>
</svg>
<span class="t" style="left:14.5px;top:512.5px;font-size:29.5px;transform:scaleX(1.0165);font-weight:700;color:#111;">전환비율</span>
<span class="t" style="left:123.2px;top:512.5px;font-size:30.7px;letter-spacing:1.25px;-webkit-text-stroke:1.3px #111;color:#111;">(5)</span>
<span class="t" style="left:171.4px;top:513.4px;font-size:28.2px;transform:scaleX(1.05);font-weight:700;color:#ad49a5;">종가</span>
<span class="t" style="left:232.9px;top:514.4px;font-size:29.0px;transform:scaleX(1.035);font-weight:700;color:#ad49a5;">단순</span>
<span class="t" style="left:296.5px;top:509.9px;font-size:30.4px;transform:scaleX(1.0333);-webkit-text-stroke:1.3px #ad49a5;color:#ad49a5;">5</span>
<span class="t" style="left:325.1px;top:509.9px;font-size:30.4px;transform:scaleX(0.9435);-webkit-text-stroke:1.3px #ffff8f;color:#ffff8f;">10</span>
<span class="t" style="left:367.0px;top:509.9px;font-size:30.4px;-webkit-text-stroke:1.3px #d4ab58;color:#d4ab58;">20</span>
<span class="t" style="left:410.9px;top:509.9px;font-size:30.4px;letter-spacing:0.75px;-webkit-text-stroke:1.3px #4d8f4f;color:#4d8f4f;">60</span>
<span class="t" style="left:458.2px;top:510.4px;font-size:32.6px;transform:scaleX(0.8894);-webkit-text-stroke:1.1px #767676;color:#767676;">120</span>
<span class="t" style="left:428.8px;top:576.9px;font-size:29.2px;transform:scaleX(1.152);font-weight:700;color:#bf4230;">최고</span>
<span class="t" style="left:499.6px;top:574.8px;font-size:32.7px;letter-spacing:1.91px;-webkit-text-stroke:1.4px #bf4230;color:#bf4230;">43,750(0.00%,02/13)</span>
<span class="t" style="left:127.7px;top:1472.8px;font-size:30.0px;transform:scaleX(1.0931);font-weight:700;color:#2d5aa6;">최저</span>
<span class="t" style="left:195.6px;top:1469.8px;font-size:33.3px;letter-spacing:1.45px;-webkit-text-stroke:1.4px #2d5aa6;color:#2d5aa6;">7,050(520.57%,12/05)</span>
<span class="t" style="left:976.1px;top:503.2px;font-size:36.4px;transform:scaleX(0.8882);-webkit-text-stroke:1.0px #333;color:#333;">51</span>
<span class="t" style="left:963.0px;top:546.0px;font-size:33.3px;letter-spacing:1.2px;-webkit-text-stroke:1.3px #fff;color:#fff;">43,750</span>
<span class="t" style="left:972.4px;top:590.4px;font-size:32.3px;letter-spacing:1.68px;-webkit-text-stroke:1.3px #fff;color:#fff;">9.65%</span>
<span class="t" style="left:963.0px;top:794.5px;font-size:35.7px;transform:scaleX(0.9879);-webkit-text-stroke:1.0px #000;color:#000;">34,575</span>
<span class="t" style="left:961.6px;top:1021.8px;font-size:35.7px;letter-spacing:-0.08px;-webkit-text-stroke:1.0px #000;color:#000;">25,400</span>
<span class="t" style="left:963.3px;top:1248.8px;font-size:35.7px;transform:scaleX(0.9849);-webkit-text-stroke:1.0px #000;color:#000;">16,225</span>
<span class="t" style="left:982.3px;top:1474.7px;font-size:35.7px;transform:scaleX(0.9931);-webkit-text-stroke:1.0px #000;color:#000;">7,050</span>
<span class="t" style="left:132.5px;top:1524.9px;font-size:35.4px;letter-spacing:1.56px;-webkit-text-stroke:1.0px #000;color:#000;">2025/12/18</span>
<span class="t" style="left:360.5px;top:1524.9px;font-size:35.4px;letter-spacing:1.56px;-webkit-text-stroke:1.0px #000;color:#000;">2026/01/09</span>
<span class="t" style="left:588.2px;top:1524.9px;font-size:35.4px;letter-spacing:1.61px;-webkit-text-stroke:1.0px #000;color:#000;">2026/01/28</span>
<span class="t" style="left:865.4px;top:1524.9px;font-size:35.4px;letter-spacing:1.54px;-webkit-text-stroke:1.0px #000;color:#000;">02/13</span>
<svg class="abs" style="left:1000px;top:1512px" width="80" height="57" viewBox="1000 1512 80 57"><path d="M1022.5 1513V1567.5" stroke="#e2e2e2" stroke-width="1.3"/><path d="M1040 1535L1049.5 1523L1059 1535Z M1040 1544.5L1049.5 1556.5L1059 1544.5Z" fill="#9c9c9c" stroke="#9c9c9c" stroke-width="2.4" stroke-linejoin="round"/></svg>
<span class="t" style="left:14.7px;top:1590.2px;font-size:28.7px;transform:scaleX(1.039);font-weight:700;color:#5a9696;">거래량</span>
<span class="t" style="left:102.2px;top:1589.6px;font-size:29.5px;transform:scaleX(1.0275);font-weight:700;color:#ad49a5;">단순</span>
<span class="t" style="left:165.7px;top:1586.9px;font-size:30.4px;transform:scaleX(1.04);-webkit-text-stroke:1.3px #ad49a5;color:#ad49a5;">5</span>
<span class="t" style="left:191.7px;top:1586.9px;font-size:30.4px;transform:scaleX(0.9781);-webkit-text-stroke:1.3px #d4ab58;color:#d4ab58;">20</span>
<span class="t" style="left:236.3px;top:1586.9px;font-size:30.4px;-webkit-text-stroke:1.3px #4d8f4f;color:#4d8f4f;">60</span>
<span class="t" style="left:282.2px;top:1587.4px;font-size:32.6px;transform:scaleX(0.9173);-webkit-text-stroke:1.1px #767676;color:#767676;">120</span>
<span class="t" style="left:940.5px;top:1620.5px;font-size:35.7px;transform:scaleX(0.9794);-webkit-text-stroke:1.0px #000;color:#000;">14,204K</span>
<span class="t" style="left:940.5px;top:1691.3px;font-size:35.7px;transform:scaleX(0.9794);-webkit-text-stroke:1.0px #000;color:#000;">10,653K</span>
<span class="t" style="left:959.3px;top:1762.2px;font-size:35.7px;transform:scaleX(0.9866);-webkit-text-stroke:1.0px #000;color:#000;">7,102K</span>
<span class="t" style="left:959.3px;top:1833.0px;font-size:35.7px;transform:scaleX(0.9866);-webkit-text-stroke:1.0px #000;color:#000;">3,551K</span>
<span class="t" style="left:1051.8px;top:1889.5px;font-size:33.7px;-webkit-text-stroke:1.0px #000;color:#000;">0</span>
<svg class="abs" style="left:900px;top:1840px" width="180" height="50" viewBox="900 1840 180 50"><path d="M913.3 1865.6L925.8 1845.3H1078V1886.3H925.8Z" fill="#5c9a9c"/></svg>
<span class="t" style="left:959.8px;top:1851.0px;font-size:32.7px;letter-spacing:1.4px;-webkit-text-stroke:1.3px #eaffff;color:#eaffff;">2,723K</span>
<div class="abs" style="left:18.1px;top:1940px;width:130.7px;height:59px;border-radius:30px;background:linear-gradient(100deg,#5b90ef 0%,#5f7fec 45%,#6e56e0 100%)"></div>
<svg class="abs" style="left:18px;top:1940px" width="60" height="60" viewBox="18 1940 60 60"><circle cx="47.8" cy="1969.6" r="24" fill="#fff"/><path d="M34.6 1974.6L41.9 1967.8L48.8 1973L59.8 1962.8" fill="none" stroke="#5a84e2" stroke-width="3.4" stroke-linecap="round" stroke-linejoin="round"/><path d="M52.8 1961.3H61.2V1969.8" fill="none" stroke="#5a84e2" stroke-width="3.4" stroke-linecap="round" stroke-linejoin="round"/></svg>
<span class="t" style="left:83.0px;top:1958.8px;font-size:25.8px;transform:scaleX(1.0289);font-weight:700;color:#fff;">지수</span>
<span class="t" style="left:170.3px;top:1954.0px;font-size:33.5px;transform:scaleX(1.0805);font-weight:500;color:#222;">코스피</span>
<span class="t" style="left:498.8px;top:1952.6px;font-size:36.9px;letter-spacing:0.02px;-webkit-text-stroke:0.8px #be4f7f;color:#be4f7f;">5,565.27</span>
<svg class="abs" style="left:700px;top:1960px" width="30" height="20" viewBox="700 1960 30 20"><path d="M705 1974.8L713.9 1963L722.8 1974.8Z" fill="#c0507e"/></svg>
<span class="t" style="left:741.4px;top:1952.6px;font-size:36.9px;-webkit-text-stroke:0.8px #be4f7f;color:#be4f7f;">43.00</span>
<span class="t" style="left:948.4px;top:1952.6px;font-size:36.9px;transform:scaleX(0.9553);-webkit-text-stroke:0.8px #be4f7f;color:#be4f7f;">0.78%</span>
<div class="abs" style="left:17.8px;top:2030.4px;width:143.3px;height:142.6px;border-radius:11px;background:#a3426a"></div>
<svg class="abs" style="left:17px;top:2030px" width="145" height="143" viewBox="17 2030 145 143"><path d="M62.5 2062.2H117M62.5 2081.9H117M62.5 2101.1H117" stroke="#fff" stroke-width="5" stroke-linecap="round"/></svg>
<span class="t" style="left:58.7px;top:2117.5px;font-size:26.5px;transform:scaleX(1.205);font-weight:700;color:#fff;">메</span>
<span class="t" style="left:91.5px;top:2117.5px;font-size:28.0px;transform:scaleX(1.0792);font-weight:700;color:#fff;">뉴</span>
<span class="t" style="left:235.0px;top:2085.8px;font-size:39.7px;transform:scaleX(1.0042);font-weight:500;color:#9b9b9b;">관심종목</span>
<span class="t" style="left:446.7px;top:2085.8px;font-size:39.7px;transform:scaleX(1.0094);font-weight:500;color:#9b9b9b;">현재가</span>
<span class="t" style="left:621.0px;top:2084.8px;font-size:40.8px;transform:scaleX(0.9887);font-weight:500;color:#9b9b9b;">주문</span>
<span class="t" style="left:756.3px;top:2086.8px;font-size:38.6px;transform:scaleX(1.0794);font-weight:700;color:#222;">차트</span>
<span class="t" style="left:893.0px;top:2085.8px;font-size:39.7px;transform:scaleX(1.0129);font-weight:500;color:#9b9b9b;">계좌</span>
<span class="t" style="left:1031.0px;top:2084.8px;font-size:40.8px;transform:scaleX(0.9912);font-weight:500;color:#9b9b9b;">종</span>
<div class="abs" style="left:1030px;top:2070px;width:50px;height:70px;background:linear-gradient(90deg,rgba(255,255,255,0) 0%,rgba(255,255,255,0.35) 40%,rgba(255,255,255,0.95) 70%,#fff 100%)"></div>
</body></html>
